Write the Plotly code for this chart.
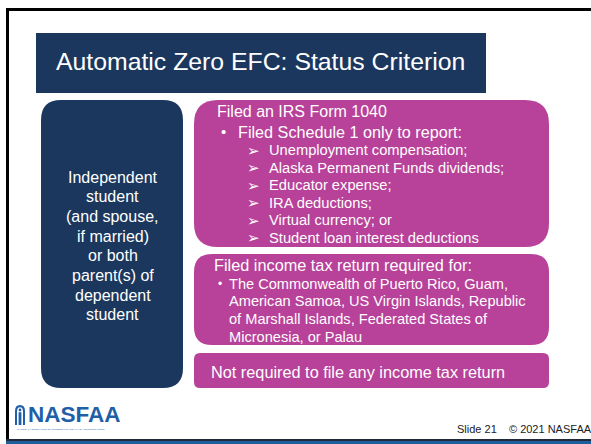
import plotly.graph_objects as go

W, H = 591, 444
NAVY = "#1b375e"
PINK = "#b8419a"
LOGO_BLUE = "#1f5fa8"
FONT = "Liberation Sans, Arial, sans-serif"

title = "Automatic Zero EFC: Status Criterion"
left_lines = ["Independent", "student", "(and spouse,", "if married)", "or both",
              "parent(s) of", "dependent", "student"]
box1_head = "Filed an IRS Form 1040"
box1_bullet = "Filed Schedule 1 only to report:"
box1_items = ["Unemployment compensation;", "Alaska Permanent Funds dividends;",
              "Educator expense;", "IRA deductions;", "Virtual currency; or",
              "Student loan interest deductions"]
box2_head = "Filed income tax return required for:"
box2_lines = ["The Commonwealth of Puerto Rico, Guam,",
              "American Samoa, US Virgin Islands, Republic",
              "of Marshall Islands, Federated States of",
              "Micronesia, or Palau"]
box3_text = "Not required to file any income tax return"
footer = "Slide 21&nbsp;&nbsp;&nbsp;&nbsp;© 2021 NASFAA"
logo = "NASFAA"
logo_sub = "NATIONAL ASSOCIATION OF STUDENT FINANCIAL AID ADMINISTRATORS"


def rrect(x0, y0, x1, y1, r):
    return (f"M{x0+r},{y0} L{x1-r},{y0} Q{x1},{y0} {x1},{y0+r} "
            f"L{x1},{y1-r} Q{x1},{y1} {x1-r},{y1} L{x0+r},{y1} "
            f"Q{x0},{y1} {x0},{y1-r} L{x0},{y0+r} Q{x0},{y0} {x0+r},{y0} Z")


shapes = [
    dict(type="rect", x0=6, x1=W + 5, y0=8, y1=11, fillcolor="black", line_width=0),
    dict(type="rect", x0=6, x1=9, y0=8, y1=444, fillcolor="black", line_width=0),
    dict(type="rect", x0=6, x1=W + 5, y0=439, y1=441, fillcolor="#202a3a", line_width=0),
    dict(type="rect", x0=6, x1=W + 5, y0=441, y1=445, fillcolor="#1d5f9c", line_width=0),
    dict(type="rect", x0=36, x1=486, y0=33, y1=93, fillcolor=NAVY, line_width=0),
    dict(type="path", path=rrect(41, 100, 183, 388, 20), fillcolor=NAVY, line_width=0),
    dict(type="path", path=rrect(194, 100, 549, 247, 24), fillcolor=PINK, line_width=0),
    dict(type="path", path=rrect(194, 254, 549, 345, 18), fillcolor=PINK, line_width=0),
    dict(type="path", path=rrect(194, 353, 549, 388, 6), fillcolor=PINK, line_width=0),
    # logo icon (arch with figure)
    dict(type="path", path="M15,425 L15,411 Q15,405 20,405 Q25,405 25,411 L25,425 Z",
         fillcolor=LOGO_BLUE, line_width=0),
    dict(type="path", path="M17,425 L17,411.5 Q17,407.2 20,407.2 Q23,407.2 23,411.5 L23,425 Z",
         fillcolor="white", line_width=0),
    dict(type="circle", x0=18.6, x1=21.4, y0=408.6, y1=411.4, fillcolor=LOGO_BLUE, line_width=0),
    dict(type="rect", x0=18.6, x1=21.4, y0=412.2, y1=425, fillcolor=LOGO_BLUE, line_width=0),
]

ann = []


def txt(x, y, s, size, color="white", xanchor="left", bold=False, family=FONT):
    ann.append(dict(x=x, y=y, text=(f"<b>{s}</b>" if bold else s), showarrow=False,
                    xanchor=xanchor, yanchor="middle", xref="x", yref="y",
                    font=dict(family=family, size=size, color=color)))


txt(54, 61, title, 24.8)
for i, s in enumerate(left_lines):
    txt(112.5, 177 + i * 19.7, s, 16, xanchor="center")

txt(215, 111.5, box1_head, 16)
txt(219, 131.5, "•", 15)
txt(236, 131.5, box1_bullet, 16.2)
for i, s in enumerate(box1_items):
    y = 150 + i * 17.5
    txt(245, y, "➢", 15)
    txt(267, y, s, 14.7)

txt(212, 265, box2_head, 16.3)
txt(216, 283.5, "•", 12)
for i, s in enumerate(box2_lines):
    txt(227, 283.5 + i * 17.8, s, 14.6)

txt(209, 372, box3_text, 16.3)

txt(455, 429, footer, 11, color="#222222")
txt(25.5, 414.5, logo, 22.5, color=LOGO_BLUE, bold=True)
txt(15, 429.5, logo_sub, 2.5, color=LOGO_BLUE)

fig = go.Figure()
fig.update_layout(
    width=W, height=H, margin=dict(l=0, r=0, t=0, b=0),
    paper_bgcolor="white", plot_bgcolor="white",
    xaxis=dict(range=[0, W], visible=False, fixedrange=True),
    yaxis=dict(range=[H, 0], visible=False, fixedrange=True),
    shapes=shapes, annotations=ann, showlegend=False,
)
fig.write_html("out.html", config={"displayModeBar": False},
               post_script="document.body.style.margin='0';document.body.style.overflow='hidden';")
